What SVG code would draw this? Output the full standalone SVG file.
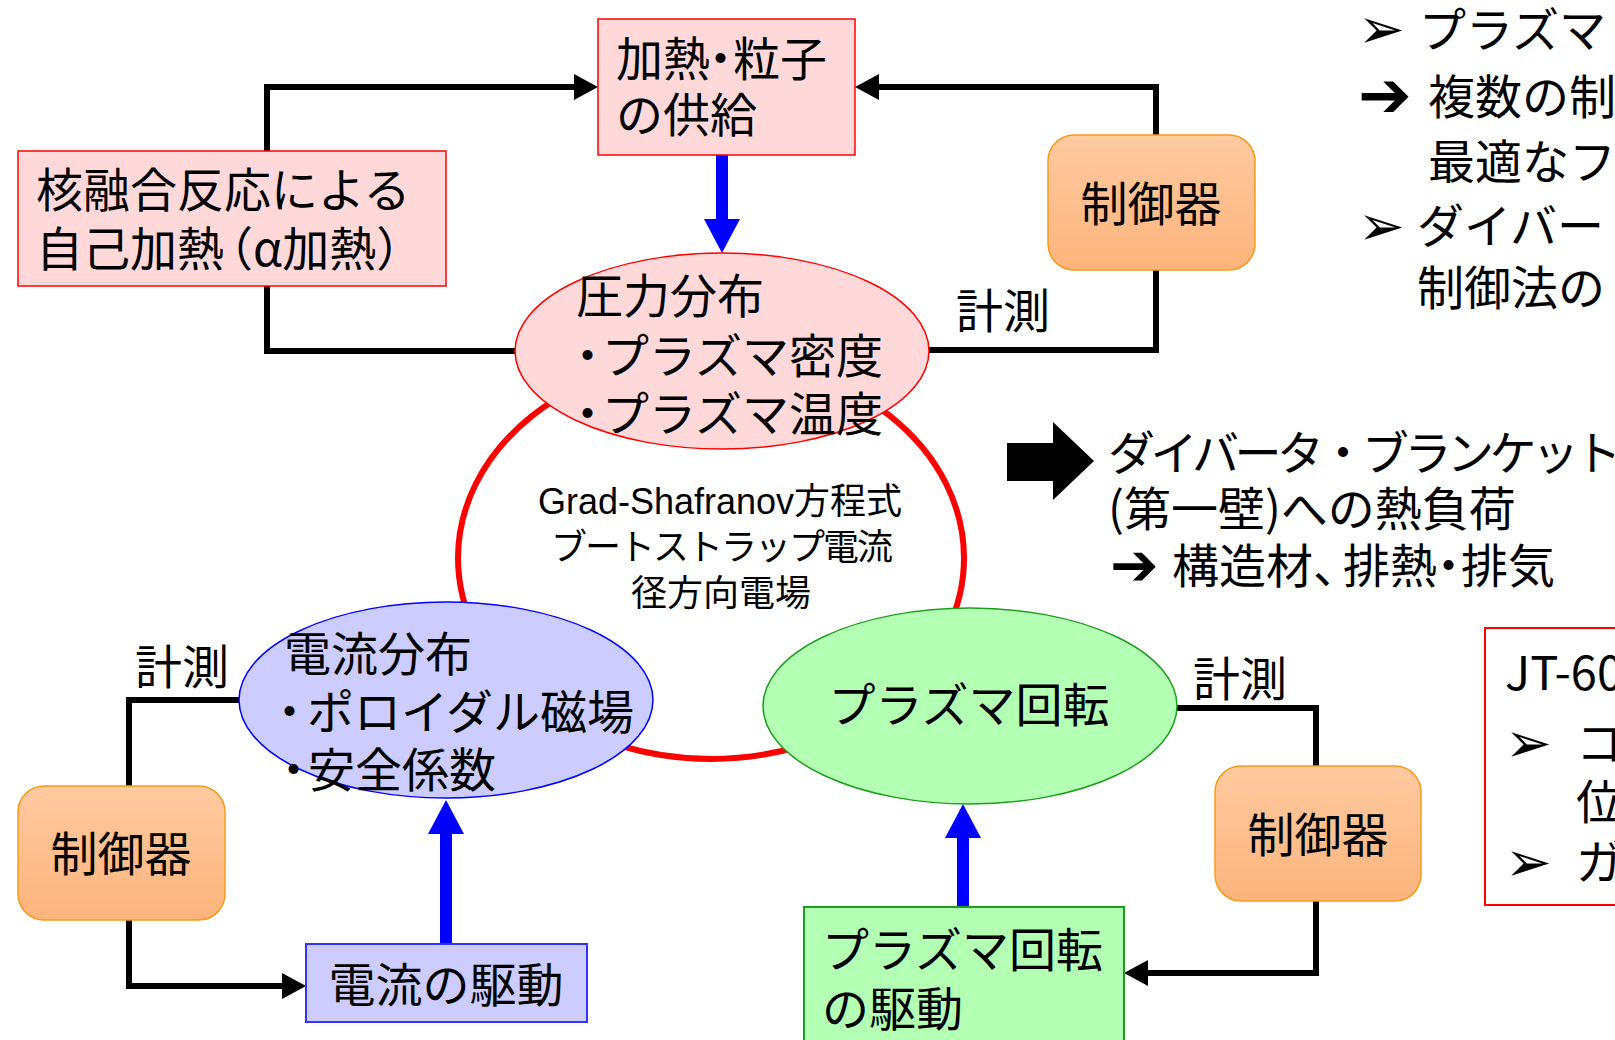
<svg xmlns="http://www.w3.org/2000/svg" width="1615" height="1040" viewBox="0 0 1615 1040">
<style>
.t{font-family:"Noto Sans CJK JP",sans-serif;font-size:47px;fill:#000}
.c{font-family:"Liberation Sans","Noto Sans CJK JP",sans-serif;font-size:36px;fill:#000;text-anchor:middle}
.sym{font-family:"DejaVu Sans",sans-serif;fill:#000}
.mid{text-anchor:middle}
.conn{stroke:#000;stroke-width:6;fill:none;stroke-linejoin:miter}
.blue{stroke:#0000FF;stroke-width:12;fill:none}
.pink{fill:#FFD9D9;stroke:#FF0000;stroke-width:1.5}
.lblue{fill:#CCCCFF;stroke:#0000FF;stroke-width:1.5}
.lgreen{fill:#B3FFB3;stroke:#1E9E1E;stroke-width:1.5}
.ctrl{fill:url(#og);stroke:#F79A1E;stroke-width:1.5}
</style>
<defs>
<linearGradient id="og" x1="0" y1="0" x2="0" y2="1">
<stop offset="0" stop-color="#FFCAA0"/>
<stop offset="1" stop-color="#FCB47C"/>
</linearGradient>
<marker id="ah" markerUnits="userSpaceOnUse" markerWidth="24" markerHeight="26" refX="0" refY="13" orient="auto">
<path d="M0,0 L24,13 L0,26 z" fill="#000"/>
</marker>
<marker id="bh" markerUnits="userSpaceOnUse" markerWidth="34" markerHeight="36" refX="0" refY="18" orient="auto">
<path d="M0,0 L34,18 L0,36 z" fill="#0000FF"/>
</marker>
</defs>
<rect width="1615" height="1040" fill="#fff"/>

<g id="gs-loop">
<ellipse cx="711" cy="558" rx="253" ry="201" fill="#fff" stroke="#FF0000" stroke-width="6"/>
<text class="c" x="720" y="514" font-size="37">Grad-Shafranov方程式</text>
<text class="c" x="721" y="560" letter-spacing="-2">ブートストラップ電流</text>
<text class="c" x="721" y="606">径方向電場</text>
</g>

<g id="connectors">
<polyline class="conn" points="267,151 267,87 574,87" marker-end="url(#ah)"/>
<polyline class="conn" points="267,286 267,351 516,351"/>
<polyline class="conn" points="1156,135 1156,87 879,87" marker-end="url(#ah)"/>
<polyline class="conn" points="1156,270 1156,350 928,350"/>
<polyline class="conn" points="240,700 129,700 129,786"/>
<polyline class="conn" points="129,920 129,986 282,986" marker-end="url(#ah)"/>
<polyline class="conn" points="1176,708 1316,708 1316,766"/>
<polyline class="conn" points="1316,901 1316,973 1148,973" marker-end="url(#ah)"/>
<line class="blue" x1="722" y1="155" x2="722" y2="219" marker-end="url(#bh)"/>
<line class="blue" x1="446" y1="944" x2="446" y2="834" marker-end="url(#bh)"/>
<line class="blue" x1="963" y1="907" x2="963" y2="838" marker-end="url(#bh)"/>
<text class="t" x="956" y="328">計測</text>
<text class="t" x="135" y="684">計測</text>
<text class="t" x="1193" y="696">計測</text>
</g>

<g id="supply">
<rect class="pink" x="598" y="19" width="257" height="136"/>
<text class="t" x="616" y="76">加熱<tspan dx="-13">・</tspan><tspan dx="-11">粒子</tspan></text>
<text class="t" x="616" y="132">の供給</text>
</g>

<g id="alpha">
<rect class="pink" x="18" y="151" width="428" height="135"/>
<text class="t" x="36" y="207">核融合反応による</text>
<text class="t" x="36" y="266">自己加熱<tspan dx="-18">（α加熱）</tspan></text>
</g>

<g id="pressure">
<ellipse class="pink" cx="722" cy="351" rx="207" ry="98"/>
<text class="t" x="576" y="313">圧力分布</text>
<text class="t" x="564" y="373">・<tspan dx="-9">プラズマ密度</tspan></text>
<text class="t" x="564" y="431">・<tspan dx="-9">プラズマ温度</tspan></text>
</g>

<g id="current">
<ellipse class="lblue" cx="446" cy="700" rx="207" ry="98"/>
<text class="t" x="284" y="671">電流分布</text>
<text class="t" x="266" y="729">・<tspan dx="-6">ポロイダル磁場</tspan></text>
<text class="t" x="270" y="787">・<tspan dx="-9">安全係数</tspan></text>
</g>

<g id="rotation">
<ellipse class="lgreen" cx="970" cy="706" rx="207" ry="98"/>
<text class="t mid" x="969" y="722">プラズマ回転</text>
</g>

<g id="ctrl-top">
<rect class="ctrl" x="1048" y="135" width="207" height="135" rx="26"/>
<text class="t mid" x="1151" y="221">制御器</text>
</g>

<g id="ctrl-left">
<rect class="ctrl" x="18" y="786" width="207" height="134" rx="26"/>
<text class="t mid" x="121" y="871">制御器</text>
</g>

<g id="ctrl-right">
<rect class="ctrl" x="1215" y="766" width="206" height="135" rx="26"/>
<text class="t mid" x="1318" y="852">制御器</text>
</g>

<g id="current-drive">
<rect x="306" y="944" width="281" height="78" fill="#CCCCFF" stroke="#3333FF" stroke-width="2"/>
<text class="t mid" x="446" y="1002">電流の駆動</text>
</g>

<g id="rotation-drive">
<rect x="804" y="907" width="320" height="140" fill="#B3FFB3" stroke="#1E9E1E" stroke-width="2"/>
<text class="t" x="822" y="967">プラズマ回転</text>
<text class="t" x="822" y="1026">の駆動</text>
</g>

<g id="heatload">
<path d="M1007,443 L1053,443 L1053,422 L1094,461 L1053,500 L1053,481 L1007,481 z" fill="#000"/>
<text class="t" x="1108" y="470" letter-spacing="-4.5">ダイバータ・ブランケット</text>
<text class="t" x="1108" y="526">(第一壁)への熱負荷</text>
<text class="sym" x="1110" y="585" font-size="58" font-weight="bold">➔</text>
<text class="t" x="1172" y="583">構造材、<tspan dx="-17">排熱</tspan><tspan dx="-12">・</tspan><tspan dx="-11">排気</tspan></text>
</g>

<g id="notes">
<text class="sym" x="1358" y="48" font-size="56">➢</text>
<text class="t" x="1419" y="47">プラズマ</text>
<text class="sym" x="1358" y="117" font-size="64" font-weight="bold">➔</text>
<text class="t" x="1428" y="114">複数の制</text>
<text class="t" x="1428" y="179">最適なフ</text>
<text class="sym" x="1358" y="245" font-size="56">➢</text>
<text class="t" x="1417" y="243">ダイバー</text>
<text class="t" x="1417" y="305">制御法の</text>
</g>

<g id="jt60">
<rect x="1485" y="628" width="200" height="277" fill="#fff" stroke="#FF0000" stroke-width="2"/>
<text class="t" x="1505" y="690" font-family="Liberation Sans">JT-60</text>
<text class="sym" x="1505" y="762" font-size="56">➢</text>
<text class="t" x="1576" y="760">コ</text>
<text class="t" x="1576" y="819">位</text>
<text class="sym" x="1505" y="881" font-size="56">➢</text>
<text class="t" x="1576" y="879">ガ</text>
</g>
</svg>
